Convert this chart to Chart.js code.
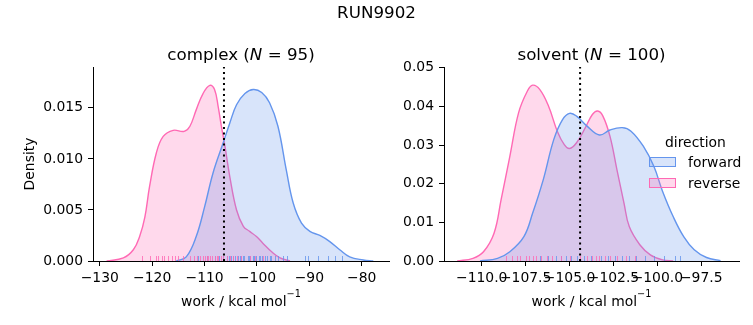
<!DOCTYPE html>
<html>
<head>
<meta charset="utf-8">
<script src="https://cdn.jsdelivr.net/npm/chart.js@4.4.0/dist/chart.umd.min.js"></script>
<style>
  body { margin: 0; background: #fff; }
  #fig { position: relative; width: 753px; height: 325px; font-family: "DejaVu Sans", sans-serif; color: #000; overflow: hidden; }
  #fig canvas { position: absolute; top: 0; }
  .txt { position: absolute; white-space: nowrap; }
  .big { font-size: 16.7px; line-height: 20px; text-align: center; }
  .leg { font-size: 13.9px; line-height: 16px; }
  .xlab { font-size: 13.9px; line-height: 16px; text-align: center; top: 293px; }
  .sup { position: relative; top: -9px; font-size: 9.7px; }
  .box { position: absolute; width: 25px; height: 8px; }
</style>
</head>
<body>
<div id="fig">
  <canvas id="complexChart" width="400" height="325" style="left:0"></canvas>
  <canvas id="solventChart" width="353" height="325" style="left:400px"></canvas>
  <div class="txt big" style="left:0;width:753px;top:2px">RUN9902</div>
  <div class="txt big" style="left:93px;width:296px;top:44px">complex (<i>N</i> = 95)</div>
  <div class="txt big" style="left:444px;width:295px;top:44px">solvent (<i>N</i> = 100)</div>
  <div class="txt xlab" style="left:93px;width:296px">work / kcal mol<span class="sup">&minus;1</span></div>
  <div class="txt xlab" style="left:444px;width:295px">work / kcal mol<span class="sup">&minus;1</span></div>
  <div class="txt leg" style="left:665px;top:134px">direction</div>
  <div class="box" style="left:649px;top:157px;background:rgba(100,149,237,0.25);border:1px solid #6495ED"></div>
  <div class="txt leg" style="left:688px;top:154px">forward</div>
  <div class="box" style="left:649px;top:178px;background:rgba(255,105,180,0.25);border:1px solid #FF69B4"></div>
  <div class="txt leg" style="left:688px;top:175px">reverse</div>
</div>
<script>
// complex leg: KDE curves
const complexForwardWork = [-115.4, -113.5, -111.6, -110.0, -108.4, -106.5, -105.2, -103.9, -102.3, -100.7, -99.1, -97.6, -96.0, -94.4, -93.1, -91.5, -89.9, -88.0, -86.1, -84.2, -82.3, -79.7, -77.8];
const complexForwardDensity = [0, 0.0004, 0.0024, 0.0053, 0.0086, 0.0115, 0.0135, 0.0153, 0.0164, 0.0168, 0.0165, 0.0155, 0.0132, 0.0089, 0.0057, 0.0037, 0.0029, 0.0025, 0.0019, 0.0011, 0.0004, 0.0001, 0];
const complexReverseWork = [-128.7, -125.5, -123.6, -122.4, -121.4, -120.5, -119.2, -117.9, -116.0, -113.9, -112.8, -111.6, -110.3, -109.0, -108.1, -107.4, -106.8, -106.1, -105.2, -103.9, -102.6, -101.4, -100.1, -98.8, -97.2, -95.6, -93.7];
const complexReverseDensity = [0, 0.0003, 0.0011, 0.0024, 0.0043, 0.0073, 0.0106, 0.0122, 0.0128, 0.0127, 0.0132, 0.0148, 0.0164, 0.0172, 0.0168, 0.0151, 0.0132, 0.0112, 0.0083, 0.0050, 0.0034, 0.0029, 0.0024, 0.0017, 0.0009, 0.0003, 0];
const complexForwardRug = [-111.2, -109.5, -108.0, -107.2, -106.5, -105.8, -105.3, -105.0, -104.6, -104.2, -103.6, -103.2, -103.0, -102.6, -102.4, -101.8, -101.5, -101.3, -100.8, -100.5, -100.2, -99.7, -99.4, -99.1, -98.5, -98.0, -97.6, -97.3, -96.6, -95.9, -95.0, -94.2, -90.9, -90.3, -88.4, -86.5, -85.2, -83.8];
const complexReverseRug = [-122.0, -120.5, -119.3, -118.9, -118.2, -117.8, -117.0, -116.3, -115.7, -115.1, -114.2, -112.8, -112.0, -111.5, -110.9, -110.3, -109.9, -109.6, -109.3, -109.0, -108.6, -108.1, -107.7, -107.4, -106.8, -106.4, -105.8, -105.2, -104.6, -103.8, -103.0, -101.4, -100.3, -98.8];
const complexCutoff = -106.3;
const complexXTicks = [-130, -120, -110, -100, -90, -80];
const complexYTicks = [0, 0.005, 0.010, 0.015];

// solvent leg
const solventForwardWork = [-110.1, -109.1, -108.4, -107.6, -107.1, -106.5, -105.9, -105.4, -105.0, -104.6, -104.0, -103.3, -102.7, -102.0, -101.5, -100.8, -100.2, -99.7, -99.1, -98.5, -97.9, -97.2, -96.4];
const solventForwardDensity = [0, 0.0007, 0.0024, 0.0063, 0.0124, 0.0210, 0.0314, 0.0366, 0.0382, 0.0375, 0.0349, 0.0326, 0.0339, 0.0345, 0.0336, 0.0297, 0.0245, 0.0180, 0.0115, 0.0063, 0.0029, 0.0009, 0.0001];
const solventReverseWork = [-111.4, -110.5, -109.9, -109.3, -108.9, -108.4, -107.9, -107.4, -107.1, -106.7, -106.2, -105.7, -105.3, -105.0, -104.6, -104.1, -103.7, -103.4, -103.1, -102.7, -102.3, -101.9, -101.6, -101.0, -100.4, -99.7, -99.1];
const solventReverseDensity = [0, 0.0007, 0.0024, 0.0072, 0.0158, 0.0271, 0.0384, 0.0440, 0.0455, 0.0444, 0.0401, 0.0336, 0.0301, 0.0291, 0.0306, 0.0345, 0.0379, 0.0388, 0.0375, 0.0323, 0.0236, 0.0150, 0.0089, 0.0042, 0.0016, 0.0003, 0];
const solventForwardRug = [-106.7, -106.2, -105.8, -105.5, -105.2, -104.9, -104.6, -104.2, -103.8, -103.2, -102.8, -102.4, -102.0, -101.6, -101.2, -100.7, -100.2, -99.6, -99.0, -98.7];
const solventReverseRug = [-108.6, -108.3, -108.0, -107.8, -107.5, -107.3, -107.1, -106.9, -106.6, -106.3, -106.0, -105.5, -105.0, -104.4, -104.0, -103.7, -103.5, -103.3, -103.0, -102.7, -102.3, -101.8, -101.3];
const solventCutoff = -104.4;
const solventXTicks = [-110, -107.5, -105, -102.5, -100, -97.5];
const solventYTicks = [0, 0.01, 0.02, 0.03, 0.04, 0.05];

const blue = '#6495ED', pink = '#FF69B4';
const font = { family: 'DejaVu Sans', size: 13.9 };

function fixMinus(s) { return s.replace('-', '\u2212'); }

function toPoints(xs, ys) { return xs.map((x, i) => ({ x: x, y: ys[i] })); }

// rug ticks + dotted cutoff line, drawn over the kde fills
function rugPlugin(sets, cutoff) {
  return {
    id: 'rug',
    afterDatasetsDraw(chart) {
      const { ctx, chartArea } = chart;
      const x = chart.scales.x;
      ctx.save();
      ctx.lineWidth = 1;
      sets.forEach(set => {
        ctx.strokeStyle = set.color;
        set.values.forEach(v => {
          const px = Math.round(x.getPixelForValue(v)) + 0.5;
          ctx.beginPath();
          ctx.moveTo(px, chartArea.bottom);
          ctx.lineTo(px, chartArea.bottom - 5);
          ctx.stroke();
        });
      });
      const cx = x.getPixelForValue(cutoff);
      ctx.strokeStyle = '#000';
      ctx.lineWidth = 2;
      ctx.setLineDash([2.1, 3.4]);
      ctx.beginPath();
      ctx.moveTo(cx, chartArea.bottom);
      ctx.lineTo(cx, chartArea.top);
      ctx.stroke();
      ctx.restore();
    }
  };
}

function makeChart(id, c) {
  return new Chart(document.getElementById(id), {
    type: 'line',
    data: {
      datasets: [
        { label: 'forward', data: toPoints(c.fwdX, c.fwdY), borderColor: blue, backgroundColor: 'rgba(100,149,237,0.25)', fill: 'origin' },
        { label: 'reverse', data: toPoints(c.revX, c.revY), borderColor: pink, backgroundColor: 'rgba(255,105,180,0.25)', fill: 'origin' }
      ]
    },
    options: {
      responsive: false,
      animation: false,
      devicePixelRatio: 1,
      layout: { padding: c.padding },
      elements: {
        point: { radius: 0 },
        line: { borderWidth: 1.4, tension: 0.4 }
      },
      plugins: { legend: { display: false }, tooltip: { enabled: false } },
      scales: {
        x: {
          type: 'linear', min: c.xMin, max: c.xMax,
          afterBuildTicks: s => { s.ticks = c.xTicks.map(v => ({ value: v })); },
          afterFit: s => { s.height = 64; },
          ticks: { autoSkip: false, maxRotation: 0, minRotation: 0, padding: 4, color: '#000', font: font, callback: v => fixMinus(c.xFmt(v)) },
          grid: { drawOnChartArea: false, drawTicks: true, tickLength: 5, color: '#000' },
          border: { display: true, color: '#000', width: 1 }
        },
        y: {
          type: 'linear', min: 0, max: c.yMax,
          afterBuildTicks: s => { s.ticks = c.yTicks.map(v => ({ value: v })); },
          afterFit: s => { s.width = c.yWidth; },
          ticks: { autoSkip: false, padding: 5, color: '#000', font: font, callback: v => v.toFixed(c.yDigits) },
          grid: { drawOnChartArea: false, drawTicks: true, tickLength: 5, color: '#000' },
          border: { display: true, color: '#000', width: 1 },
          title: { display: c.yTitle, text: 'Density', color: '#000', font: font, padding: { top: 22, bottom: 0 } }
        }
      }
    },
    plugins: [rugPlugin([
      { values: c.fwdRug, color: 'rgba(100,149,237,0.8)' },
      { values: c.revRug, color: 'rgba(255,105,180,0.8)' }
    ], c.cutoff)]
  });
}

makeChart('complexChart', {
  fwdX: complexForwardWork, fwdY: complexForwardDensity,
  revX: complexReverseWork, revY: complexReverseDensity,
  fwdRug: complexForwardRug, revRug: complexReverseRug, cutoff: complexCutoff,
  xTicks: complexXTicks, yTicks: complexYTicks,
  xMin: -131.3, xMax: -74.8, yMax: 0.019,
  xFmt: v => String(v), yDigits: 3,
  yWidth: 93, yTitle: true,
  padding: { left: 0, top: 67, right: 11, bottom: 0 }
});

makeChart('solventChart', {
  fwdX: solventForwardWork, fwdY: solventForwardDensity,
  revX: solventReverseWork, revY: solventReverseDensity,
  fwdRug: solventForwardRug, revRug: solventReverseRug, cutoff: solventCutoff,
  xTicks: solventXTicks, yTicks: solventYTicks,
  xMin: -112.15, xMax: -95.35, yMax: 0.0502,
  xFmt: v => v.toFixed(1), yDigits: 2,
  yWidth: 44, yTitle: false,
  padding: { left: 0, top: 67, right: 14, bottom: 0 }
});
</script>
</body>
</html>
